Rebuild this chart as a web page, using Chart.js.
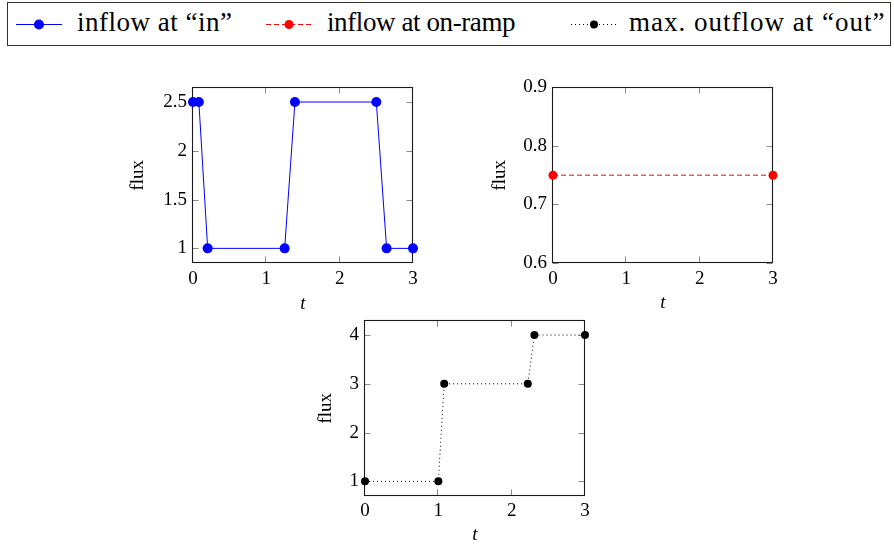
<!DOCTYPE html>
<html>
<head>
<meta charset="utf-8">
<script src="https://cdn.jsdelivr.net/npm/chart.js@4.4.1/dist/chart.umd.min.js"></script>
<style>
  html, body { margin: 0; padding: 0; background: #fff; overflow: hidden; width: 894px; height: 547px; }
  body { position: relative; font-family: 'Liberation Serif', serif; }
  canvas { position: absolute; }
  #legendBox { position: absolute; left: 7px; top: 2px; width: 882px; height: 42px; border: 1px solid #333; }
  .lg { position: absolute; top: 9px; font-family: 'Liberation Serif', serif; font-size: 27px; line-height: 27px; white-space: nowrap; color: #000; }
  #legendIcons { position: absolute; left: 0; top: 0; }
</style>
</head>
<body>
<div id="legendBox"></div>
<svg id="legendIcons" width="894" height="50"></svg>
<span class="lg" style="left:77px;letter-spacing:0.5px">inflow at “in”</span>
<span class="lg" style="left:327px;letter-spacing:-0.4px">inflow at on-ramp</span>
<span class="lg" style="left:629px;letter-spacing:1px">max. outflow at “out”</span>

<canvas id="c1" width="320" height="250" style="left:110px;top:70px"></canvas>
<canvas id="c2" width="320" height="250" style="left:470px;top:70px"></canvas>
<canvas id="c3" width="320" height="250" style="left:282px;top:303px"></canvas>

<script>
// ---- data ----
const seriesNames = ['inflow at “in”', 'inflow at on-ramp', 'max. outflow at “out”'];

const tInflow = [0, 0.08, 0.2, 1.25, 1.39, 2.5, 2.64, 3];
const fluxInflow = [2.5, 2.5, 1, 1, 2.5, 2.5, 1, 1];

const tRamp = [0, 3];
const fluxRamp = [0.75, 0.75];

const tOut = [0, 1, 1.08, 2.22, 2.31, 3];
const fluxOut = [1, 1, 3, 3, 4, 4];

const xTicks = [0, 1, 2, 3];
const yTicks1 = [1, 1.5, 2, 2.5];
const yTicks2 = [0.6, 0.7, 0.8, 0.9];
const yTicks3 = [1, 2, 3, 4];

const yRange1 = [0.85, 2.65];
const yRange2 = [0.6, 0.9];
const yRange3 = [0.7, 4.3];

// ---- legend icons ----
(function () {
  const svg = document.getElementById('legendIcons');
  const ns = 'http://www.w3.org/2000/svg';
  const items = [
    { x1: 16, x2: 62, c: '#0000ff', dash: '', r: 5 },
    { x1: 266, x2: 312, c: '#ff0000', dash: '5,3', r: 4.5 },
    { x1: 571, x2: 617, c: '#000000', dash: '1,3', r: 4 }
  ];
  items.forEach(it => {
    const l = document.createElementNS(ns, 'line');
    l.setAttribute('x1', it.x1); l.setAttribute('x2', it.x2);
    l.setAttribute('y1', 24.5); l.setAttribute('y2', 24.5);
    l.setAttribute('stroke', it.c); l.setAttribute('stroke-width', 1);
    if (it.dash) l.setAttribute('stroke-dasharray', it.dash);
    svg.appendChild(l);
    const c = document.createElementNS(ns, 'circle');
    c.setAttribute('cx', (it.x1 + it.x2) / 2); c.setAttribute('cy', 24.5);
    c.setAttribute('r', it.r); c.setAttribute('fill', it.c);
    svg.appendChild(c);
  });
})();

// ---- charts ----
Chart.defaults.font.family = "'Liberation Serif', serif";
Chart.defaults.font.size = 19;
Chart.defaults.color = '#000';

const TICK_LEN = 6;
const framePlugin = {
  id: 'frame',
  beforeDatasetsDraw(chart) {
    const { ctx, chartArea: a, scales: { x, y } } = chart;
    const L = Math.round(a.left) - 0.5, R = Math.round(a.right) - 0.5;
    const T = Math.round(a.top) + 0.5, B = Math.round(a.bottom) - 0.5;
    ctx.save();
    ctx.strokeStyle = '#8a8a8a';
    ctx.lineWidth = 1;
    ctx.beginPath();
    x.ticks.forEach(t => {
      const px = Math.round(x.getPixelForValue(t.value)) - 0.5;
      ctx.moveTo(px, T); ctx.lineTo(px, T + TICK_LEN);
      ctx.moveTo(px, B); ctx.lineTo(px, B - TICK_LEN);
    });
    y.ticks.forEach(t => {
      const py = Math.round(y.getPixelForValue(t.value)) + 0.5;
      ctx.moveTo(L, py); ctx.lineTo(L + TICK_LEN, py);
      ctx.moveTo(R, py); ctx.lineTo(R - TICK_LEN, py);
    });
    ctx.stroke();
    ctx.strokeStyle = '#1a1a1a';
    ctx.lineWidth = 1.1;
    ctx.strokeRect(L, T, R - L, B - T);
    ctx.restore();
  }
};

function makeChart(id, xs, ys, yTicks, yRange, style, yTitlePad, xTitlePad, xTickPad) {
  const pts = xs.map((v, i) => ({ x: v, y: ys[i] }));
  return new Chart(document.getElementById(id), {
    type: 'line',
    data: {
      datasets: [{
        label: style.label,
        data: pts,
        borderColor: style.color,
        backgroundColor: style.color,
        borderWidth: 1,
        borderDash: style.dash,
        pointRadius: style.r,
        pointBorderWidth: 0,
        pointBackgroundColor: style.color,
        tension: 0,
        clip: false
      }]
    },
    options: {
      responsive: false,
      animation: false,
      devicePixelRatio: 1,
      layout: { padding: { top: 16, right: 17, left: 0, bottom: 0 } },
      plugins: { legend: { display: false }, tooltip: { enabled: false } },
      scales: {
        x: {
          type: 'linear',
          min: 0, max: 3,
          grid: { display: false, drawTicks: false },
          border: { display: false },
          afterBuildTicks: s => { s.ticks = xTicks.map(v => ({ value: v })); },
          afterFit: s => { s.height = 57; },
          ticks: { padding: xTickPad, maxRotation: 0, callback: v => String(v) },
          title: { display: true, text: 't', font: { style: 'italic', size: 19 }, padding: { top: 0, bottom: xTitlePad } }
        },
        y: {
          type: 'linear',
          min: yRange[0], max: yRange[1],
          grid: { display: false, drawTicks: false },
          border: { display: false },
          afterBuildTicks: s => { s.ticks = yTicks.map(v => ({ value: v })); },
          afterFit: s => { s.width = 83; },
          ticks: { padding: 6, callback: v => String(v) },
          title: { display: true, text: 'flux', font: { size: 19 }, padding: { top: yTitlePad, bottom: 0 } }
        }
      }
    },
    plugins: [framePlugin]
  });
}

makeChart('c1', tInflow, fluxInflow, yTicks1, yRange1,
  { label: seriesNames[0], color: '#0000ff', dash: [], r: 5 }, 17, 5, 5);
makeChart('c2', tRamp, fluxRamp, yTicks2, yRange2,
  { label: seriesNames[1], color: '#ff0000', dash: [5, 3], r: 4.5 }, 19, 6, 5);
makeChart('c3', tOut, fluxOut, yTicks3, yRange3,
  { label: seriesNames[2], color: '#000000', dash: [1, 3], r: 4 }, 33, 7, 4);
</script>
</body>
</html>
